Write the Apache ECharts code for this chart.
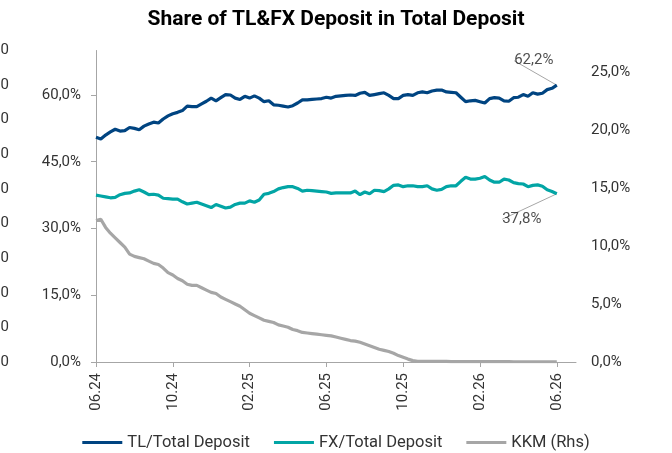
<!DOCTYPE html>
<html>
<head>
<meta charset="utf-8">
<script src="https://cdn.jsdelivr.net/npm/echarts@6/dist/echarts.min.js"></script>
<style>
  html, body { margin: 0; padding: 0; background: #fff; }
  #chart { width: 672px; height: 453px; }
</style>
</head>
<body>
<div id="chart"></div>
<script>
// x ticks: months since 06.24
var tickPos = [0, 4, 8, 12, 16, 20, 24];
var tickLabels = ['06.24', '10.24', '02.25', '06.25', '10.25', '02.26', '06.26'];

// weekly readings, left axis (%)
var tlShare = [50.5, 50.1, 51.0, 51.7, 52.3, 51.9, 52.0, 52.7, 52.5, 52.2,
  53.0, 53.5, 53.9, 53.7, 54.6, 55.3, 55.8, 56.1, 56.5, 57.5,
  57.4, 57.4, 58.0, 58.6, 59.3, 58.7, 59.4, 60.1, 60.0, 59.3,
  59.0, 59.7, 59.3, 59.8, 59.3, 58.5, 58.7, 57.8, 57.7, 57.5,
  57.3, 57.6, 58.2, 58.9, 58.9, 59.0, 59.1, 59.2, 59.5, 59.3,
  59.7, 59.8, 59.9, 60.0, 59.9, 60.4, 60.6, 59.9, 60.1, 60.3,
  60.5, 59.9, 59.2, 59.2, 59.9, 60.1, 59.9, 60.5, 60.7, 60.5,
  60.9, 61.1, 61.1, 60.7, 60.6, 60.5, 59.5, 58.5, 58.7, 58.8,
  58.5, 58.2, 59.2, 59.4, 59.3, 58.7, 58.6, 59.4, 59.5, 60.1,
  59.7, 60.5, 60.2, 60.4, 61.2, 61.5, 62.2];

var fxShare = [37.5, 37.3, 37.1, 36.9, 37.0, 37.6, 37.9, 38.0, 38.4, 38.7,
  38.2, 37.6, 37.7, 37.5, 36.8, 36.7, 36.6, 36.6, 36.0, 35.5,
  35.7, 35.9, 35.5, 35.1, 34.7, 35.4, 35.0, 34.6, 34.8, 35.4,
  35.7, 35.7, 36.2, 35.9, 36.4, 37.7, 37.9, 38.3, 38.9, 39.2,
  39.4, 39.4, 39.0, 38.4, 38.6, 38.5, 38.4, 38.3, 38.2, 37.9,
  38.0, 38.0, 38.0, 38.0, 38.4, 37.6, 38.2, 37.8, 38.6, 38.5,
  38.3, 38.9, 39.7, 39.8, 39.4, 39.6, 39.6, 39.4, 39.4, 39.6,
  38.9, 38.6, 38.8, 39.4, 39.6, 39.6, 40.6, 41.5, 41.1, 41.1,
  41.3, 41.7, 40.9, 40.4, 40.4, 41.1, 40.9, 40.3, 40.1, 40.0,
  39.4, 39.7, 39.8, 39.5, 38.7, 38.3, 37.8];

// weekly readings, right axis (%)
var kkmShare = [12.2, 12.3, 11.6, 11.1, 10.7, 10.3, 9.9, 9.3, 9.1, 9.0,
  8.9, 8.7, 8.5, 8.4, 8.1, 7.7, 7.5, 7.2, 7.0, 6.7,
  6.6, 6.6, 6.4, 6.2, 6.0, 5.9, 5.6, 5.4, 5.2, 5.0,
  4.8, 4.5, 4.2, 4.0, 3.8, 3.6, 3.5, 3.4, 3.2, 3.1,
  3.0, 2.8, 2.7, 2.55, 2.5, 2.45, 2.4, 2.35, 2.3, 2.25,
  2.15, 2.05, 1.95, 1.85, 1.8, 1.7, 1.55, 1.4, 1.25, 1.1,
  1.0, 0.9, 0.75, 0.55, 0.4, 0.25, 0.12, 0.06, 0.05, 0.05,
  0.05, 0.05, 0.05, 0.05, 0.04, 0.04, 0.04, 0.04, 0.04, 0.04,
  0.03, 0.03, 0.03, 0.03, 0.03, 0.03, 0.03, 0.02, 0.02, 0.02,
  0.02, 0.02, 0.02, 0.02, 0.02, 0.02, 0.02];

var font = 'Roboto';
var txt = '#333';
var axisGray = '#a6a6a6';

function pct(v) {
  return v.toFixed(1).replace('.', ',') + '%';
}
function pairs(arr) {
  return arr.map(function (v, i) { return [i / 4, v]; });
}
function lastPoint(arr) {
  return [[(arr.length - 1) / 4, arr[arr.length - 1]]];
}

var myChart = echarts.init(document.getElementById('chart'));
myChart.setOption({
  animation: false,
  title: {
    text: 'Share of TL&FX Deposit in Total Deposit',
    left: 'center',
    top: 4,
    textStyle: { fontFamily: font, fontSize: 21, fontWeight: 'bold', color: '#000' }
  },
  legend: {
    top: 429,
    left: 'center',
    icon: 'rect',
    itemWidth: 40,
    itemHeight: 3,
    itemGap: 24,
    data: ['TL/Total Deposit', 'FX/Total Deposit', 'KKM (Rhs)'],
    textStyle: { fontFamily: font, fontSize: 16.5, color: txt }
  },
  grid: { left: 96, right: 96, top: 50.5, bottom: 91, containLabel: false, outerBoundsMode: 'none' },
  xAxis: {
    type: 'value',
    min: 0,
    max: 25,
    splitLine: { show: false },
    axisLine: { lineStyle: { color: axisGray, width: 1 } },
    axisTick: { customValues: tickPos, length: 5, lineStyle: { color: axisGray } },
    axisLabel: {
      customValues: tickPos,
      rotate: 90,
      margin: 11,
      fontFamily: font,
      fontSize: 15,
      color: txt,
      formatter: function (v) { return tickLabels[tickPos.indexOf(v)]; }
    }
  },
  yAxis: [
    {
      type: 'value',
      min: 0,
      max: 70,
      splitLine: { show: false },
      axisLine: { show: true, lineStyle: { color: axisGray } },
      axisTick: { show: true, customValues: [0, 15, 30, 45, 60], length: 5, lineStyle: { color: axisGray } },
      axisLabel: {
        customValues: [0, 15, 30, 45, 60],
        margin: 15,
        fontFamily: font, fontSize: 15, color: txt,
        formatter: pct
      }
    },
    {
      type: 'value',
      min: 0,
      max: 26.85,
      position: 'right',
      splitLine: { show: false },
      axisLine: { show: false },
      axisTick: { show: false },
      axisLabel: {
        customValues: [0, 5, 10, 15, 20, 25],
        margin: 15,
        fontFamily: font, fontSize: 15, color: txt,
        formatter: pct
      }
    },
    {
      // cut-off axis at the very left edge of the picture
      type: 'value',
      min: 0,
      max: 90,
      position: 'left',
      offset: 79,
      splitLine: { show: false },
      axisLine: { show: false },
      axisTick: { show: false },
      axisLabel: {
        customValues: [0, 10, 20, 30, 40, 50, 60, 70, 80, 90],
        fontFamily: font, fontSize: 15, color: txt,
        formatter: function (v) { return v.toFixed(1).replace('.', ','); }
      }
    }
  ],
  series: [
    {
      name: 'TL/Total Deposit',
      type: 'line',
      yAxisIndex: 0,
      showSymbol: false,
      data: pairs(tlShare),
      lineStyle: { color: '#004481', width: 3.2 },
      itemStyle: { color: '#004481' },
      z: 4
    },
    {
      name: 'FX/Total Deposit',
      type: 'line',
      yAxisIndex: 0,
      showSymbol: false,
      data: pairs(fxShare),
      lineStyle: { color: '#02a5a5', width: 3.2 },
      itemStyle: { color: '#02a5a5' },
      z: 3
    },
    {
      name: 'KKM (Rhs)',
      type: 'line',
      yAxisIndex: 1,
      showSymbol: false,
      data: pairs(kkmShare),
      lineStyle: { color: '#a6a6a6', width: 3.2 },
      itemStyle: { color: '#a6a6a6' },
      z: 2
    },
    {
      type: 'scatter',
      yAxisIndex: 0,
      symbolSize: 0,
      data: lastPoint(tlShare),
      label: {
        show: true, position: 'top',
        fontFamily: font, fontSize: 15, color: '#222',
        formatter: function (p) { return pct(p.value[1]); }
      },
      labelLayout: { dx: -23, dy: -12 },
      labelLine: { show: true, lineStyle: { color: '#a6a6a6', width: 1 } }
    },
    {
      type: 'scatter',
      yAxisIndex: 0,
      symbolSize: 0,
      data: lastPoint(fxShare),
      label: {
        show: true, position: 'bottom',
        fontFamily: font, fontSize: 15, color: '#222',
        formatter: function (p) { return pct(p.value[1]); }
      },
      labelLayout: { dx: -35, dy: 13 },
      labelLine: { show: true, lineStyle: { color: '#a6a6a6', width: 1 } }
    }
  ]
});
</script>
</body>
</html>
